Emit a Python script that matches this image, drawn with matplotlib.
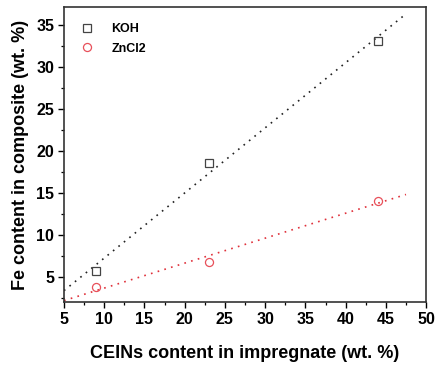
import numpy as np
import matplotlib.pyplot as plt
from matplotlib.ticker import MultipleLocator

plt.rcParams['font.family'] = ['Liberation Sans', 'DejaVu Sans']
plt.rcParams['font.weight'] = 'bold'

# CEINs loading in the impregnate (wt. %)
ceins = [9, 23, 44]
# Fe content found in the composite (wt. %)
fe_koh = [5.75, 18.5, 33.1]
fe_zncl2 = [3.8, 6.8, 14.05]

fit_range = (5, 47.5)

fig = plt.figure(figsize=(4.37, 3.72), dpi=100)
ax = fig.add_axes([0.1465, 0.188, 0.8285, 0.793])

series = [
    ("KOH", fe_koh, 's', '#444444', '#222222'),
    ("ZnCl2", fe_zncl2, 'o', '#e8505a', '#e0303a'),
]

xf = np.linspace(*fit_range, 200)
for label, y, marker, mcolor, lcolor in series:
    # linear least-squares fit through the measured points
    k, b = np.polyfit(ceins, y, 1)
    ax.plot(xf, k * xf + b, linestyle=(0, (1, 3.2)), lw=1.2, color=lcolor, zorder=1)
    ax.plot(ceins, y, marker, ls='none', ms=5.8, mfc='none', mec=mcolor,
            mew=0.9, label=label, zorder=2)

ax.set_xlim(5, 50)
ax.set_ylim(2, 37.1)
ax.xaxis.set_major_locator(MultipleLocator(5))
ax.xaxis.set_minor_locator(MultipleLocator(2.5))
ax.yaxis.set_major_locator(MultipleLocator(5))
ax.yaxis.set_minor_locator(MultipleLocator(2.5))
ax.set_yticks([5, 10, 15, 20, 25, 30, 35])
ax.tick_params(which='major', direction='out', length=4, width=1.0, labelsize=11.5, pad=3)
ax.tick_params(which='minor', direction='out', length=2.5, width=0.9)
for lab in ax.get_xticklabels() + ax.get_yticklabels():
    lab.set_fontweight('bold')
for sp in ax.spines.values():
    sp.set_linewidth(1.2)
    sp.set_color('#333333')

ax.set_xlabel("CEINs content in impregnate (wt. %)", fontsize=13, fontweight='bold', labelpad=13)
ax.set_ylabel("Fe content in composite (wt. %)", fontsize=13, fontweight='bold', labelpad=5)

ax.legend(loc='upper left', frameon=False, fontsize=9, handletextpad=1.5,
          borderaxespad=0.9, labelspacing=0.6, handlelength=1.0)

fig.savefig("out.png", dpi=100)
